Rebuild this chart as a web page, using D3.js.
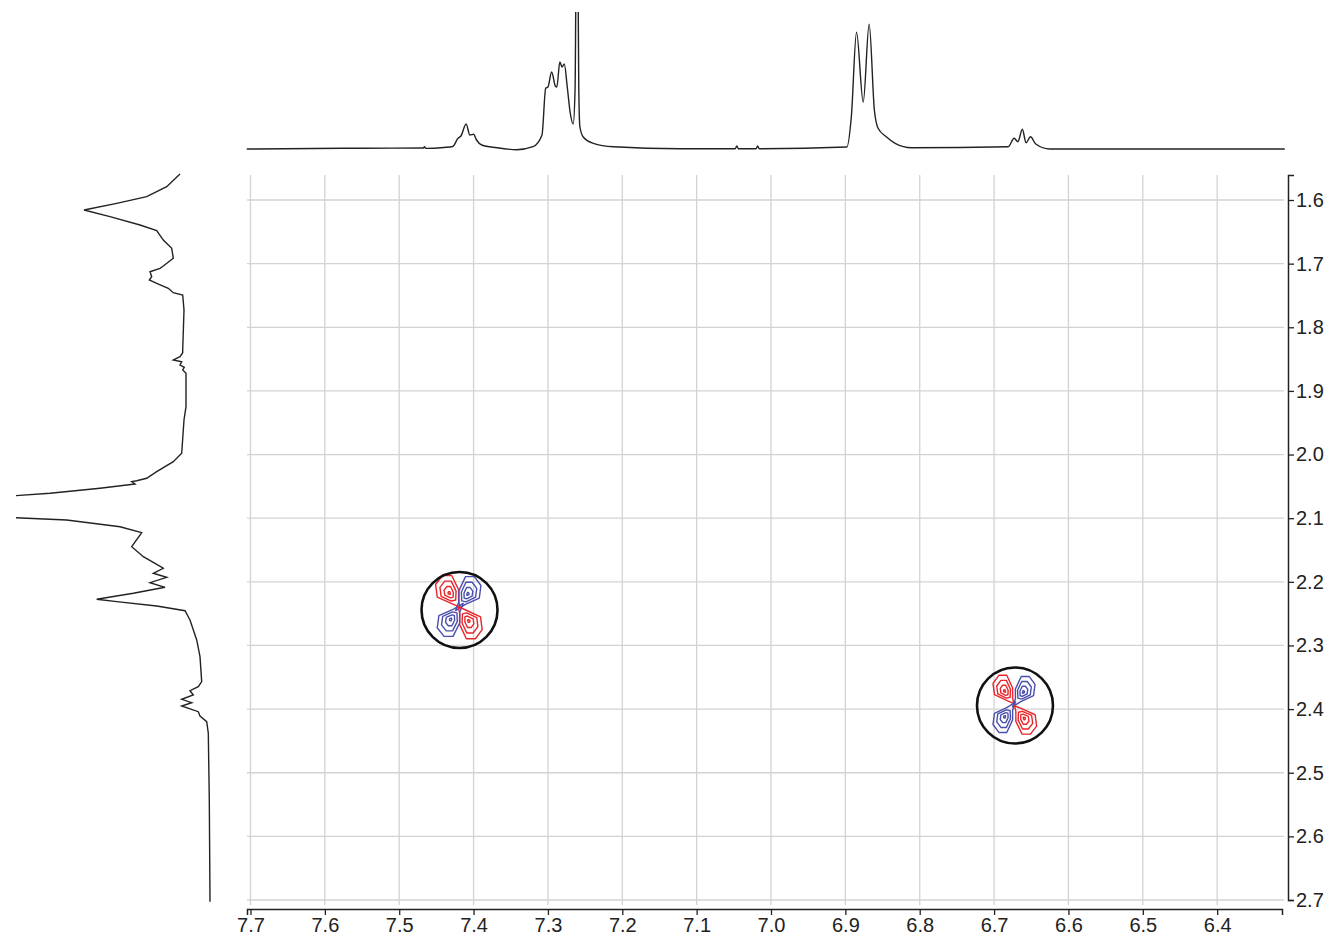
<!DOCTYPE html>
<html>
<head>
<meta charset="utf-8">
<script src="https://cdn.jsdelivr.net/npm/d3@7"></script>
<style>
  body { margin: 0; background: #fff; }
  svg { display: block; }
  .tick text { font-family: "Liberation Sans", Arial, sans-serif; font-size: 20px; fill: #222; }
</style>
</head>
<body>
<div id="chart"></div>
<script>
// tick labels (ppm)
const xTicks = [7.7, 7.6, 7.5, 7.4, 7.3, 7.2, 7.1, 7.0, 6.9, 6.8, 6.7, 6.6, 6.5, 6.4];
const yTicks = [1.6, 1.7, 1.8, 1.9, 2.0, 2.1, 2.2, 2.3, 2.4, 2.5, 2.6, 2.7];

// F2 projection (top): [ppm, intensity]
const topTrace = [
  [7.705, 0], [7.55, 0.8], [7.4675, 1], [7.466, 2.3], [7.4645, 0.6], [7.44, 1.5], [7.428, 2.5],
  [7.421, 10.7], [7.417, 13], [7.410, 25], [7.405, 14], [7.400, 14.7], [7.396, 9],
  [7.389, 4], [7.369, 1.3], [7.342, -0.7], [7.320, 2.3], [7.308, 14], [7.303, 60.7],
  [7.300, 62], [7.295, 77], [7.290, 63], [7.288, 62], [7.284, 87], [7.281, 82],
  [7.278, 85], [7.274, 62], [7.270, 36], [7.266, 25], [7.2635, 60], [7.261, 300],
  [7.2585, 60], [7.257, 22], [7.2525, 12], [7.239, 5.7], [7.212, 2.3], [7.122, 0.3],
  [7.048, 0.3], [7.046, 3], [7.044, 0.3], [7.020, 0.3], [7.018, 3], [7.016, 0.3],
  [6.898, 2], [6.892, 32], [6.885, 116.7], [6.876, 47], [6.868, 124.7], [6.861, 39],
  [6.856, 20.7], [6.845, 12.3], [6.833, 5.7], [6.811, 1.3], [6.681, 2.3], [6.673, 10.7],
  [6.668, 7.3], [6.662, 19.7], [6.657, 6.3], [6.651, 12.3], [6.644, 5], [6.625, 0],
  [6.309, 0]
];

// F1 projection (left): [ppm, intensity]
const leftTrace = [
  [1.5591, 35], [1.5791, 48.3], [1.5948, 68.3], [1.6052, 98.3], [1.6157, 131], [1.6262, 105],
  [1.6393, 75], [1.6482, 58.3], [1.6629, 51.7], [1.6759, 43.3], [1.6916, 41.7], [1.7037, 51.7],
  [1.7073, 55], [1.7127, 65], [1.7205, 63.3], [1.7257, 65.7], [1.7309, 58.3], [1.7388, 46.7],
  [1.7457, 41.7], [1.7493, 32.3], [1.7728, 31], [1.8357, 32.3], [1.840, 32.3], [1.8462, 35],
  [1.8514, 41.7], [1.8541, 33.3], [1.8593, 35], [1.8629, 30.7], [1.8671, 32.3], [1.8723, 29],
  [1.9248, 29], [1.9457, 31], [1.998, 33.3], [2.0112, 41.7], [2.0269, 58.3], [2.0373, 68.3],
  [2.0411, 78.3], [2.0426, 83.3], [2.0463, 80], [2.053, 115], [2.0609, 165], [2.0646, 199],
  [2.0824, 700], [2.0992, 199], [2.1028, 148.3], [2.1134, 95], [2.1228, 73.3], [2.1448, 83.3],
  [2.1605, 71.7], [2.1709, 60], [2.1787, 51.7], [2.1866, 61.7], [2.1929, 48.3], [2.2013, 65],
  [2.2086, 50], [2.218, 81.7], [2.2274, 118.3], [2.2312, 98.3], [2.238, 58.3], [2.2454, 30],
  [2.26, 25], [2.2914, 18.3], [2.3176, 15], [2.3569, 13.3], [2.3648, 16.7], [2.3711, 25],
  [2.3778, 21.7], [2.3846, 33.3], [2.3899, 23.3], [2.3951, 33.3], [2.4041, 16.7], [2.4108, 15],
  [2.4198, 8.3], [2.438, 6.7], [2.5428, 5.7], [2.7026, 5]
];

// cross peaks (circled)
const crossF2 = [7.4189, 6.6719];
const crossF1 = [2.2443, 2.3943];

// contour lobes: [cross index, F2 ppm, F1 ppm, sign, half-width F2, half-width F1]
const lobes = [
  [0, 7.4353, 2.2140, 1, 0.0155, 0.0235],
  [0, 7.4052, 2.2155, -1, 0.0148, 0.0232],
  [0, 7.4334, 2.2627, -1, 0.0152, 0.0225],
  [0, 7.4039, 2.2652, 1, 0.0152, 0.0238],
  [1, 6.6880, 2.3683, 1, 0.0132, 0.0210],
  [1, 6.6584, 2.3699, -1, 0.0132, 0.0208],
  [1, 6.6880, 2.4155, -1, 0.0132, 0.0208],
  [1, 6.6570, 2.4179, 1, 0.0140, 0.0210]
];

const W = 1325, H = 936;
const svg = d3.select('#chart').append('svg').attr('width', W).attr('height', H);

const x = d3.scaleLinear().domain([7.7047, 6.3128]).range([247, 1282]);
const y = d3.scaleLinear().domain([1.5607, 2.7]).range([175, 900]);

// grid
const grid = svg.append('g').attr('stroke', '#d3d3d3').attr('stroke-width', 1.3);
grid.selectAll('.vg').data(xTicks).enter().append('line')
  .attr('x1', d => x(d)).attr('x2', d => x(d))
  .attr('y1', 175).attr('y2', 905);
grid.selectAll('.hg').data(yTicks).enter().append('line')
  .attr('y1', d => y(d)).attr('y2', d => y(d))
  .attr('x1', 247).attr('x2', 1284);

// axes
const fmt = d3.format('.1f');
const xAxis = svg.append('g')
  .attr('transform', 'translate(0,909)')
  .call(d3.axisBottom(x).tickValues(xTicks).tickFormat(fmt).tickSizeOuter(0).tickSize(6).tickPadding(3));
const yAxis = svg.append('g')
  .attr('transform', 'translate(1288,0)')
  .call(d3.axisRight(y).tickValues(yTicks).tickFormat(fmt).tickSizeOuter(0).tickSize(6).tickPadding(2));
[xAxis, yAxis].forEach(a => {
  a.select('.domain').attr('stroke', '#222').attr('stroke-width', 1.5);
  a.selectAll('.tick line').attr('stroke', '#222').attr('stroke-width', 1.3);
});

// top projection
const yTop = d3.scaleLinear().domain([0, 125]).range([149, 24]);
svg.append('clipPath').attr('id', 'clipTop')
  .append('rect').attr('x', 240).attr('y', 12).attr('width', 1060).attr('height', 150);
svg.append('path')
  .datum(topTrace)
  .attr('clip-path', 'url(#clipTop)')
  .attr('fill', 'none').attr('stroke', '#222').attr('stroke-width', 1.4)
  .attr('d', d3.line().x(d => x(d[0])).y(d => yTop(d[1])).curve(d3.curveMonotoneX));

// left projection
const xLeft = d3.scaleLinear().domain([0, 199]).range([215, 16]);
svg.append('clipPath').attr('id', 'clipLeft')
  .append('rect').attr('x', 16).attr('y', 165).attr('width', 220).attr('height', 750);
svg.append('path')
  .datum(leftTrace)
  .attr('clip-path', 'url(#clipLeft)')
  .attr('fill', 'none').attr('stroke', '#222').attr('stroke-width', 1.4)
  .attr('d', d3.line().x(d => xLeft(d[1])).y(d => y(d[0])));

// contour lobes (outline tail points towards the cross-peak centre)
const outline = t => [[-0.4, -1.0], [0.4, -1.0], [1.0, -0.05], [1.0, 0.7], [t, t],
  [0.45, 0.9], [-0.85, 0.45], [-1.0, -0.4]];
const inner = [[-0.4, -1.0], [0.4, -1.0], [1.0, -0.05], [0.95, 0.8],
  [0.4, 0.9], [-0.85, 0.45], [-1.0, -0.4]];
const rings = [[1, -0.02], [0.7, 0.06], [0.4, 0.12], [0.1, 0.16]];

const contours = svg.append('g').attr('fill', 'none').attr('stroke-width', 1.4).attr('stroke-linejoin', 'round');
lobes.forEach(l => {
  const cx = x(l[1]), cy = y(l[2]);
  const sx = x(crossF2[l[0]]) > cx ? 1 : -1;
  const sy = y(crossF1[l[0]]) > cy ? 1 : -1;
  const wx = Math.abs(x(l[1] + l[4]) - cx), wy = Math.abs(y(l[2] + l[5]) - cy);
  rings.forEach((r, i) => {
    const shape = i === 0 ? outline(l[3] > 0 ? 1.12 : 1.3) : inner;
    const pts = shape.map(p => [cx + sx * (p[0] * r[0] + r[1]) * wx, cy + sy * (p[1] * r[0] + r[1]) * wy]);
    contours.append('path')
      .attr('stroke', l[3] > 0 ? '#e8262b' : '#4a4fae')
      .attr('d', d3.line().curve(d3.curveLinearClosed)(pts));
  });
});

// circles around cross peaks
svg.selectAll('.ring').data(crossF2).enter().append('circle')
  .attr('cx', d => x(d)).attr('cy', (d, i) => y(crossF1[i]))
  .attr('r', 38)
  .attr('fill', 'none').attr('stroke', '#111').attr('stroke-width', 2.6);
</script>
</body>
</html>
